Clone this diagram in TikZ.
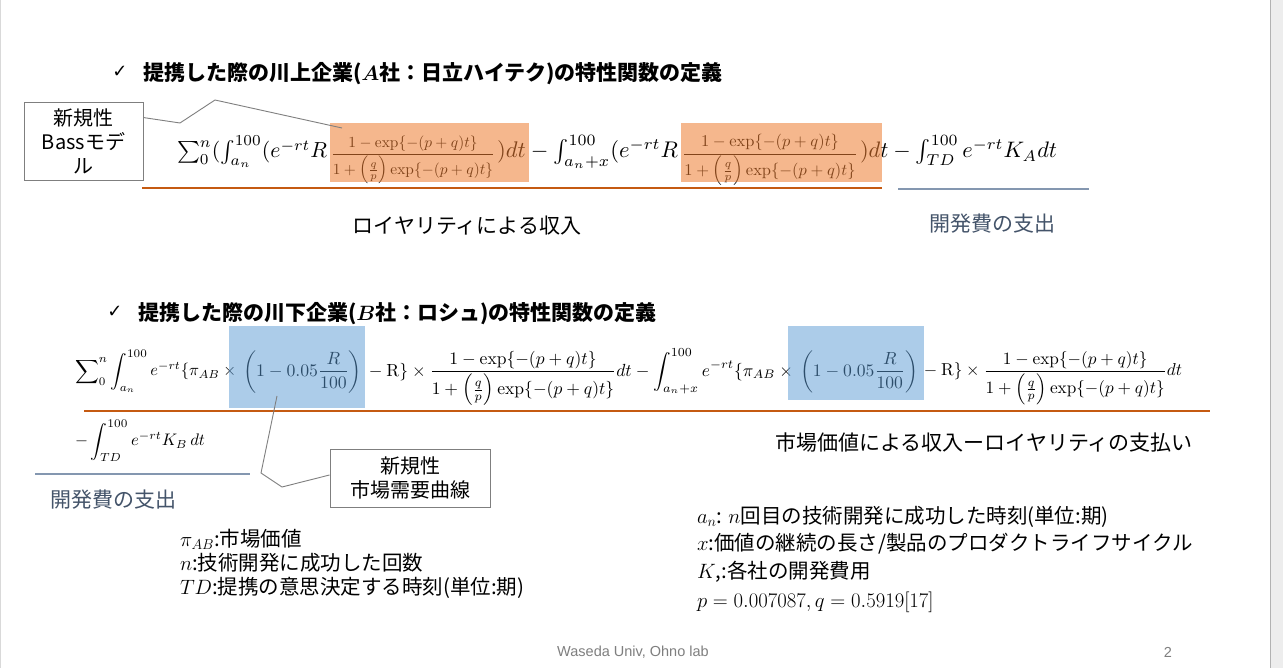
\documentclass[tikz,border=0pt]{standalone}
\usepackage{amsmath}
\usepackage[no-math]{fontspec}
\setmainfont{Noto Sans CJK JP}
\newfontfamily\dejavu{DejaVu Sans}
\newfontfamily\footfont{Liberation Sans}
\usepackage{graphicx}
\definecolor{orng}{HTML}{ED7D31}
\definecolor{orline}{HTML}{C55A11}
\definecolor{hlb}{HTML}{5B9BD5}
\definecolor{slate}{HTML}{8497B0}
\definecolor{slatetext}{HTML}{44546A}
\definecolor{callgray}{HTML}{7F7F7F}
\newcommand{\fitw}[2]{\resizebox{#1pt}{!}{#2}}
\newcommand{\bassfrac}{\frac{1-\exp\{-(p+q)t\}}{1+\left(\frac{q}{p}\right)\exp\{-(p+q)t\}}}
\tikzset{
  fpiece/.style={inner sep=0pt, outer sep=0pt, anchor=base west},
  fcenter/.style={inner sep=0pt, outer sep=0pt, anchor=base},
  jtext/.style={inner sep=0pt, outer sep=0pt, font=\fontsize{21}{25}\selectfont},
  headtext/.style={inner sep=0pt, outer sep=0pt, anchor=base west, font=\fontsize{21}{25}\selectfont\bfseries},
  legtext/.style={inner sep=0pt, outer sep=0pt, anchor=base west, font=\fontsize{20.5}{24}\selectfont},
  checkmk/.style={inner sep=0pt, font=\dejavu\fontsize{18}{20}\selectfont},
  callbox/.style={draw=callgray, line width=0.9pt, fill=white, align=center, inner sep=0pt, font=\fontsize{20}{24}\selectfont},
  callline/.style={draw=callgray, line width=0.9pt},
  hlorange/.style={fill=orng, fill opacity=0.55, draw=none},
  hlblue/.style={fill=hlb, fill opacity=0.5, draw=none},
  oline/.style={draw=orline, line width=2.4pt},
  sline/.style={draw=slate, line width=2pt},
}
\begin{document}
\begin{tikzpicture}[x=1pt, y=-1pt]
\path[use as bounding box, fill=white] (0,0) rectangle (1283,668);
\fill[black!7] (1271,0) rectangle (1283,668);
\draw[black!30, line width=1pt] (1270.5,0) -- (1270.5,668);
\draw[black!15, line width=1pt] (0.5,0) -- (0.5,668);

% ---------- heading 1 ----------
\node[checkmk] (ck1) at (120,72) {✓};
\node[headtext] (h1) at (143,81) {提携した際の川上企業({\boldmath$A$}社：日立ハイテク)の特性関数の定義};

% ---------- formula 1 ----------
\node[fpiece] (fa1) at (177,158) {\fitw{150}{$\sum_0^n(\int_{a_n}^{100}(e^{-rt}R$}};
\node[fcenter] (fa2) at (413,158) {\fitw{164}{$\displaystyle\bassfrac$}};
\node[fpiece] (fa3) at (497,158) {\fitw{181}{$)dt-\int_{a_n+x}^{100}(e^{-rt}R$}};
\node[fcenter] (fa4) at (770,158) {\fitw{175}{$\displaystyle\bassfrac$}};
\node[fpiece] (fa5) at (860,158) {\fitw{197}{$)dt-\int_{TD}^{100}e^{-rt}K_Adt$}};

\fill[hlorange] (330,123) rectangle (529,182);
\fill[hlorange] (681,123) rectangle (882,182);

\draw[oline] (142,188) -- (882,188);
\draw[sline] (898,189) -- (1089,189);
\node[jtext] (roy) at (467,226) {ロイヤリティによる収入};
\node[jtext, text=slatetext] (dev1) at (992,224) {開発費の支出};

% callout 1
\node[callbox, minimum width=119pt, minimum height=78pt] (bass) at (83.5,141) {新規性\\Bassモデ\\ル};
\coordinate (c1a) at (180,123);
\coordinate (c1b) at (215,100);
\coordinate (c1c) at (342,128);
\draw[callline] ([yshift=-16pt]bass.north east) -- (c1a) -- (c1b) -- (c1c);

% ---------- heading 2 ----------
\node[checkmk] (ck2) at (115,312) {✓};
\node[headtext] (h2) at (138,321) {提携した際の川下企業({\boldmath$B$}社：ロシュ)の特性関数の定義};

% ---------- formula 2 ----------
\node[fpiece] (fb1) at (75,376) {\fitw{165}{$\displaystyle\sum\nolimits_0^n\int_{a_n}^{100}e^{-rt}\{\pi_{AB}\times{}$}};
\node[fpiece] (fb2) at (243,376) {\fitw{119}{$\displaystyle\left(1-0.05\frac{R}{100}\right)$}};
\node[fpiece] (fb3) at (365,376) {\fitw{432}{$\displaystyle{}-\mathrm{R}\}\times\bassfrac dt-\int_{a_n+x}^{100}e^{-rt}\{\pi_{AB}\times{}$}};
\node[fpiece] (fb4) at (800,376) {\fitw{118}{$\displaystyle\left(1-0.05\frac{R}{100}\right)$}};
\node[fpiece] (fb5) at (920,376) {\fitw{262}{$\displaystyle{}-\mathrm{R}\}\times\bassfrac dt$}};
\node[fpiece] (fb6) at (75,446) {\fitw{130}{$\displaystyle-\int_{TD}^{100}e^{-rt}K_B\,dt$}};

\fill[hlblue] (229,326) rectangle (365,408);
\fill[hlblue] (788,326) rectangle (924,400);

\draw[oline] (84,411) -- (1210,411);
\draw[sline] (35,474) -- (250,474);
\node[jtext] (mkt) at (984,443) {市場価値による収入ーロイヤリティの支払い};
\node[jtext, text=slatetext] (dev2) at (113,500) {開発費の支出};

% callout 2
\node[callbox, minimum width=160pt, minimum height=58pt] (demand) at (410,478) {新規性\\市場需要曲線};
\coordinate (c2a) at (277,396);
\coordinate (c2b) at (261,473);
\coordinate (c2c) at (282,487);
\draw[callline] (c2a) -- (c2b) -- (c2c) -- ([yshift=3pt]demand.west);

% ---------- legends ----------
\node[legtext] (l1) at (180,546) {$\pi_{AB}$:市場価値};
\node[legtext] (l2) at (180,570) {$n$:技術開発に成功した回数};
\node[legtext] (l3) at (180,594) {$TD$:提携の意思決定する時刻(単位:期)};

\node[legtext] (r1) at (697,523) {$a_n$: $n$回目の技術開発に成功した時刻(単位:期)};
\node[legtext] (r2) at (697,550) {$x$:価値の継続の長さ/製品のプロダクトライフサイクル};
\node[legtext] (r3) at (697,578) {$K$,:各社の開発費用};
\node[legtext] (r4) at (697,607) {$p=0.007087, q=0.5919[17]$};

% ---------- footer ----------
\node[inner sep=0pt, text=callgray, font=\footfont\fontsize{14.5}{17}\selectfont] (foot) at (633,652) {Waseda Univ, Ohno lab};
\node[inner sep=0pt, text=callgray, font=\footfont\fontsize{14.5}{17}\selectfont] (pg) at (1168,652) {2};
\end{tikzpicture}
\end{document}
